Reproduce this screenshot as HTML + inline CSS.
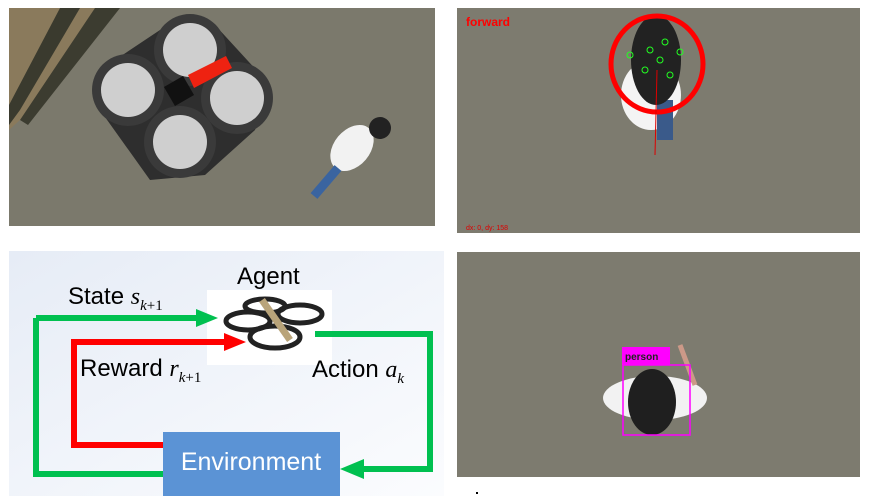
<!DOCTYPE html>
<html><head><meta charset="utf-8"><style>
body{margin:0;background:#fff;width:870px;height:496px;overflow:hidden}
svg text{font-family:"Liberation Sans",sans-serif}
</style></head><body>
<svg width="870" height="496" viewBox="0 0 870 496" xmlns="http://www.w3.org/2000/svg">
<defs>
<linearGradient id="bg" x1="0" y1="0" x2="1" y2="1"><stop offset="0" stop-color="#e6ecf6"/><stop offset="1" stop-color="#fbfcfe"/></linearGradient>
</defs>
<!-- top-left -->
<rect x="9" y="8" width="426" height="218" fill="#7b796c"/>
<polygon points="9,8 120,8 20,120 9,130" fill="#8a7a5c"/>
<polygon points="60,8 80,8 20,110 9,125 9,105" fill="#3a3a2e"/>
<polygon points="95,8 120,8 28,125 20,120" fill="#3c3c30"/>
<polygon points="160,30 215,25 270,85 255,130 205,175 150,180 100,110 100,70" fill="#2e2e2e"/>
<g fill="#3a3a3a"><circle cx="190" cy="50" r="36"/><circle cx="128" cy="90" r="36"/><circle cx="237" cy="98" r="36"/><circle cx="180" cy="142" r="36"/></g>
<g fill="#cfcfcf"><circle cx="190" cy="50" r="27"/><circle cx="128" cy="90" r="27"/><circle cx="237" cy="98" r="27"/><circle cx="180" cy="142" r="27"/></g>
<rect x="168" y="80" width="22" height="22" fill="#111" transform="rotate(-30 179 91)"/>
<polygon points="188,75 226,56 232,68 194,88" fill="#e21"/>
<ellipse cx="352" cy="148" rx="26" ry="18" fill="#f2f2f2" transform="rotate(-50 352 148)"/>
<circle cx="380" cy="128" r="11" fill="#222"/>
<path d="M338 168 L314 196" stroke="#3a64a0" stroke-width="9"/>
<!-- top-right -->
<rect x="457" y="8" width="403" height="225" fill="#7d7b6f"/>
<ellipse cx="651" cy="95" rx="30" ry="35" fill="#f4f4f4"/>
<rect x="657" y="100" width="16" height="40" fill="#3a5a8a"/>
<ellipse cx="656" cy="60" rx="25" ry="45" fill="#222"/>
<ellipse cx="657" cy="64" rx="46" ry="48" fill="none" stroke="#f00" stroke-width="5"/>
<line x1="657" y1="70" x2="655" y2="155" stroke="#d00" stroke-width="1"/>
<g fill="none" stroke="#2f2" stroke-width="1"><circle cx="650" cy="50" r="3"/><circle cx="660" cy="60" r="3"/><circle cx="630" cy="55" r="3"/><circle cx="680" cy="52" r="3"/><circle cx="645" cy="70" r="3"/><circle cx="665" cy="42" r="3"/><circle cx="670" cy="75" r="3"/></g>
<text x="466" y="26" font-size="12" font-weight="bold" fill="#f00">forward</text>
<text x="466" y="230" font-size="7" fill="#d00">dx: 0, dy: 158</text>
<!-- bottom-right -->
<rect x="457" y="252" width="403" height="225" fill="#7d7b6f"/>
<ellipse cx="655" cy="398" rx="52" ry="22" fill="#f2f2f2"/>
<path d="M680 345 L695 385" stroke="#c98" stroke-width="5"/>
<ellipse cx="652" cy="402" rx="24" ry="33" fill="#1f1f1f"/>
<rect x="623" y="365" width="67" height="70" fill="none" stroke="#f0f" stroke-width="1.5"/>
<rect x="622" y="347" width="48" height="18" fill="#f0f"/>
<text x="625" y="360" font-size="10" font-weight="bold" fill="#222">person</text>
<rect x="476" y="492" width="2" height="2" fill="#000"/>
<!-- bottom-left diagram -->
<rect x="9" y="251" width="435" height="245" fill="url(#bg)"/>
<rect x="207" y="290" width="125" height="75" fill="#fff"/>
<g fill="none" stroke="#222" stroke-width="5">
<ellipse cx="248" cy="321" rx="22" ry="9"/><ellipse cx="300" cy="314" rx="22" ry="9"/>
<ellipse cx="275" cy="337" rx="25" ry="11"/><ellipse cx="265" cy="306" rx="20" ry="7"/>
</g>
<path d="M262 300 L290 340" stroke="#b9a47a" stroke-width="7"/>
<path d="M36 318 L200 318" stroke="#00c050" stroke-width="6" fill="none"/>
<polygon points="196,309 218,318 196,327" fill="#00c050"/>
<path d="M36 318 L36 474 L163 474" stroke="#00c050" stroke-width="6" fill="none"/>
<path d="M163 445 L74 445 L74 342 L228 342" stroke="#f00" stroke-width="6" fill="none"/>
<polygon points="224,333 246,342 224,351" fill="#f00"/>
<path d="M315 334 L430 334 L430 469 L362 469" stroke="#00c050" stroke-width="6" fill="none"/>
<polygon points="364,459 340,469 364,479" fill="#00c050"/>
<rect x="163" y="432" width="177" height="64" fill="#5b93d5"/>
<text x="251" y="470" font-size="25" fill="#fff" text-anchor="middle">Environment</text>
<text x="237" y="284" font-size="24" fill="#000">Agent</text>
<text x="68" y="304" font-size="24" fill="#000">State <tspan font-family="Liberation Serif" font-style="italic">s</tspan><tspan font-family="Liberation Serif" font-style="italic" font-size="15" dy="6">k</tspan><tspan font-family="Liberation Serif" font-size="15">+1</tspan></text>
<text x="80" y="376" font-size="24" fill="#000">Reward <tspan font-family="Liberation Serif" font-style="italic">r</tspan><tspan font-family="Liberation Serif" font-style="italic" font-size="15" dy="6">k</tspan><tspan font-family="Liberation Serif" font-size="15">+1</tspan></text>
<text x="312" y="377" font-size="24" fill="#000">Action <tspan font-family="Liberation Serif" font-style="italic">a</tspan><tspan font-family="Liberation Serif" font-style="italic" font-size="15" dy="6">k</tspan></text>
</svg>
</body></html>
